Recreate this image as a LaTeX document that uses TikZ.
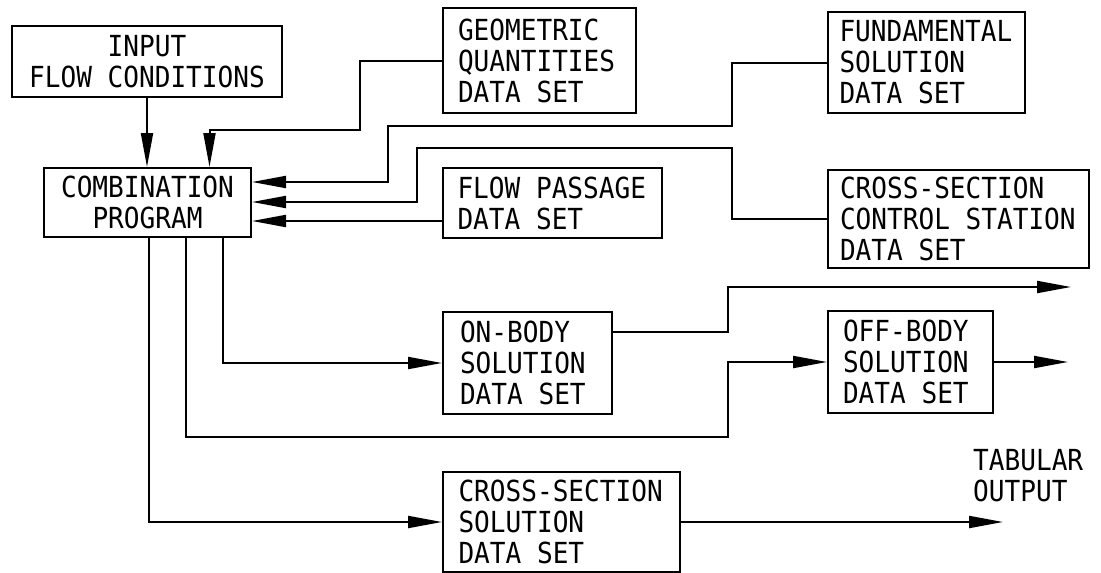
\documentclass[tikz,border=0pt]{standalone}
\usepackage{fontspec}
\newfontfamily\boxfont[FakeStretch=0.9, WordSpace={1,0,0}]{DejaVu Sans Mono}
\usetikzlibrary{arrows.meta}
\begin{document}
\begin{tikzpicture}[x=1pt, y=-1pt, line join=miter, >={Triangle[length=34pt, width=12pt]},
		font=\boxfont\fontsize{29}{31}\selectfont,
		databox/.style={draw, line width=2pt, inner sep=0pt, align=left, execute at begin node={\spaceskip=15.71pt\relax}},
		link/.style={->, line width=2pt}]
	\useasboundingbox (0,0) rectangle (1101,573);
	
	\node[databox, align=center, minimum width=270pt, minimum height=71pt] (input) at (147,61.5) {INPUT\\FLOW CONDITIONS};
	\node[databox, align=center, minimum width=207pt, minimum height=69pt] (comb) at (147.5,202.5) {COMBINATION\\PROGRAM};
	
	\node[databox, minimum width=193pt, text width=163pt, minimum height=105pt] (geo) at (539.5,60.5) {GEOMETRIC\\QUANTITIES\\DATA SET};
	\node[databox, minimum width=219pt, text width=190pt, minimum height=70pt] (passage) at (552.5,203) {FLOW PASSAGE\\DATA SET};
	\node[databox, minimum width=197pt, text width=174pt, minimum height=101pt] (fund) at (926.5,62.5) {FUNDAMENTAL\\SOLUTION\\DATA SET};
	\node[databox, minimum width=261pt, text width=237pt, minimum height=98pt] (ctrl) at (958.5,219) {CROSS-SECTION\\CONTROL STATION\\DATA SET};
	
	\node[databox, minimum width=169pt, text width=135pt, minimum height=102pt] (onbody) at (527.5,363) {ON-BODY\\SOLUTION\\DATA SET};
	\node[databox, minimum width=165pt, text width=135pt, minimum height=102pt] (offbody) at (910.5,362) {OFF-BODY\\SOLUTION\\DATA SET};
	\node[databox, minimum width=237pt, text width=206pt, minimum height=100pt] (xsol) at (561.5,522) {CROSS-SECTION\\SOLUTION\\DATA SET};
	
	\node[anchor=north west, align=left, inner sep=0pt] (tab) at (973,449) {TABULAR\\OUTPUT};
	
	\coordinate (onout) at (1071,287);
	\coordinate (offout) at (1068,362);
	\coordinate (tabout) at (1003,522);
	
	\draw[link] (input.south) -- (input.south |- comb.north);
	\draw[link] (geo.west) -| (360,130) -| ([xshift=62pt]comb.north);
	\draw[link] (fund.west) -| (732,126) -| (388,182) -- (comb.east |- 0,182);
	\draw[link] (ctrl.west) -| (732,148) -| (417,202) -- (comb.east |- 0,202);
	\draw[link] (passage.west |- 0,221) -- (comb.east |- 0,221);
	
	\draw[link] ([xshift=75.5pt]comb.south) |- (onbody.west);
	\draw[link] ([xshift=38.5pt]comb.south) |- (728,437) |- (offbody.west);
	\draw[link] ([xshift=1.5pt]comb.south) |- (xsol.west);
	
	\draw[link] (onbody.east |- 0,332) -| (728,287) -- (onout);
	\draw[link] (offbody.east) -- (offout);
	\draw[link] (xsol.east) -- (tabout);
\end{tikzpicture}
\end{document}
